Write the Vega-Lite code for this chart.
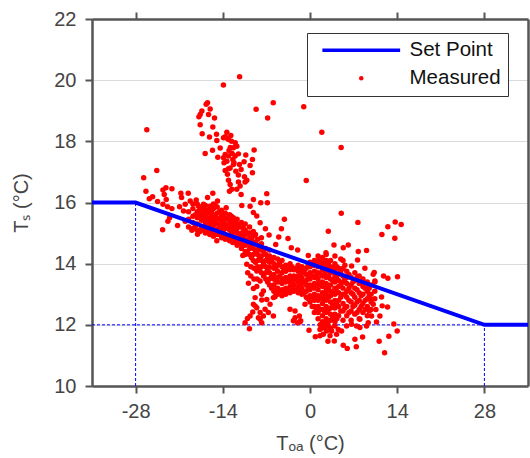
{"$schema":"https://vega.github.io/schema/vega-lite/v6.json","width":436,"height":367,"autosize":"none","padding":{"left":92,"top":19,"right":2,"bottom":72},"background":"white","config":{"font":"Liberation Sans","view":{"stroke":null}},
"datasets":{"setpoint":[{"toa":-35,"ts":16},{"toa":-28,"ts":16},{"toa":28,"ts":12},{"toa":35,"ts":12}],
"guides":[{"g":"a","toa":-35,"ts":12},{"g":"a","toa":28,"ts":12},{"g":"b","toa":-28,"ts":10},{"g":"b","toa":-28,"ts":16},{"g":"c","toa":28,"ts":10},{"g":"c","toa":28,"ts":12}],
"measured":[{"toa":-11.3,"ts":20.11},{"toa":-13.9,"ts":19.84},{"toa":-26.2,"ts":18.38},{"toa":-8.65,"ts":19.05},{"toa":-5.9,"ts":19.26},{"toa":-1,"ts":19.13},{"toa":-6.8,"ts":18.76},{"toa":-0.6,"ts":16.72},{"toa":1.9,"ts":18.3},{"toa":5,"ts":17.8},
{"toa":-16.45,"ts":19.26},{"toa":-16.67,"ts":19.21},{"toa":-16.03,"ts":19.06},{"toa":-17.36,"ts":18.99},{"toa":-17.63,"ts":18.88},{"toa":-17.84,"ts":18.8},{"toa":-16.29,"ts":18.88},{"toa":-15.33,"ts":18.76},{"toa":-17.63,"ts":18.54},{"toa":-15.6,"ts":18.47},{"toa":-17.31,"ts":18.25},{"toa":-16.13,"ts":18.14},{"toa":-15.01,"ts":18.23},{"toa":-14.96,"ts":18.03},{"toa":-13.35,"ts":18.3},{"toa":-13.62,"ts":18.15},{"toa":-13.09,"ts":18.06},{"toa":-12.71,"ts":18.19},{"toa":-13.89,"ts":18.12},{"toa":-11.75,"ts":17.84},{"toa":-12.29,"ts":17.79},{"toa":-14.42,"ts":17.78},{"toa":-15.65,"ts":17.71},{"toa":-16.83,"ts":17.6},{"toa":-8.97,"ts":17.72},{"toa":-10.31,"ts":17.55},{"toa":-11.49,"ts":17.59},{"toa":-14.8,"ts":17.48},{"toa":-13.62,"ts":17.57},{"toa":-13.89,"ts":17.46},{"toa":-13.09,"ts":17.52},{"toa":-12.02,"ts":17.52},{"toa":-12.39,"ts":17.41},{"toa":-13.35,"ts":17.35},{"toa":-9.24,"ts":17.41},{"toa":-10.58,"ts":17.33},{"toa":-11.32,"ts":17.24},{"toa":-9.62,"ts":17.21},{"toa":-12.29,"ts":17.24},{"toa":-12.82,"ts":17.13},{"toa":-13.62,"ts":17.05},{"toa":-13.09,"ts":17.1},{"toa":-11.91,"ts":17.02},{"toa":-11.06,"ts":17.08},{"toa":-9.24,"ts":16.97},{"toa":-10.52,"ts":16.84},{"toa":-10.15,"ts":16.73},{"toa":-13.25,"ts":16.92},{"toa":-13.09,"ts":16.73},{"toa":-12.82,"ts":16.59},{"toa":-11.49,"ts":16.67},{"toa":-11.22,"ts":16.54},{"toa":-10.42,"ts":16.67},{"toa":-11.75,"ts":16.43},{"toa":-12.55,"ts":16.43},{"toa":-12.93,"ts":16.37},{"toa":-11.06,"ts":16.26},{"toa":-26.7,"ts":16.81},{"toa":-24.6,"ts":17.05},{"toa":-12.8,"ts":17.8},{"toa":-12.5,"ts":17.6},{"toa":-12.2,"ts":17.3},{"toa":-13,"ts":17.7},{"toa":-12,"ts":17.95},{"toa":-13.3,"ts":18.1},{"toa":-12.6,"ts":18},{"toa":-13.8,"ts":17.3},{"toa":-11.5,"ts":16.9},
{"toa":-26.34,"ts":16.37},{"toa":-25.8,"ts":16.12},{"toa":-25.27,"ts":16.19},{"toa":-24.47,"ts":16.03},{"toa":-23.61,"ts":16.41},{"toa":-23.13,"ts":16.48},{"toa":-22.17,"ts":16.45},{"toa":-23.4,"ts":16.26},{"toa":-23.08,"ts":16.1},{"toa":-23.61,"ts":15.94},{"toa":-22.86,"ts":15.86},{"toa":-22.17,"ts":15.8},{"toa":-20.73,"ts":16.3},{"toa":-20.62,"ts":16.16},{"toa":-19.55,"ts":16.3},{"toa":-20.94,"ts":15.86},{"toa":-20.3,"ts":15.72},{"toa":-20.03,"ts":15.94},{"toa":-19.23,"ts":16.05},{"toa":-18.27,"ts":16.08},{"toa":-16.45,"ts":16.16},{"toa":-15.6,"ts":16.3},{"toa":-14.85,"ts":16.05},{"toa":-17.9,"ts":15.88},{"toa":-17.09,"ts":15.94},{"toa":-16.03,"ts":15.88},{"toa":-13.46,"ts":15.83},{"toa":-6.94,"ts":16.29},{"toa":-6.84,"ts":15.99},{"toa":-7.91,"ts":15.99},{"toa":-9.08,"ts":16.1},{"toa":-9.62,"ts":15.88},{"toa":-10.95,"ts":15.9},{"toa":-9.08,"ts":15.67},{"toa":-8.55,"ts":15.56},{"toa":-8.01,"ts":15.34},{"toa":-6.57,"ts":14.94},{"toa":-7.16,"ts":15.14},{"toa":-5.5,"ts":14.63},{"toa":-3,"ts":14.52},{"toa":-23.66,"ts":15.11},{"toa":-22.81,"ts":15.39},{"toa":-22.54,"ts":15.5},{"toa":-21.26,"ts":15.25},{"toa":-20.03,"ts":15.39},{"toa":-18.96,"ts":15.09},{"toa":-18.06,"ts":14.96},{"toa":-17.63,"ts":15.07},{"toa":-14.96,"ts":14.75},{"toa":-12.39,"ts":14.69},{"toa":-11.49,"ts":14.66},{"toa":-10.79,"ts":14.27},{"toa":-10.15,"ts":13.98},
{"toa":5.02,"ts":15.65},{"toa":7.69,"ts":15.35},{"toa":2.94,"ts":15.06},{"toa":12.5,"ts":15.21},{"toa":13.68,"ts":15.36},{"toa":14.64,"ts":15.28},{"toa":11.54,"ts":14.95},{"toa":13.62,"ts":14.83},{"toa":-4.11,"ts":15.45},{"toa":-4.59,"ts":15.14},{"toa":-5.02,"ts":14.87},{"toa":-3.53,"ts":14.82},{"toa":-1.98,"ts":14.45},{"toa":-0.27,"ts":14.27},{"toa":2.56,"ts":14.36},{"toa":3.85,"ts":14.61},{"toa":5.34,"ts":14.52},{"toa":6.14,"ts":14.61},{"toa":7.75,"ts":14.4},{"toa":9.08,"ts":14.43},{"toa":7.64,"ts":14.12},{"toa":6.68,"ts":13.92},{"toa":8.81,"ts":13.85},{"toa":10.31,"ts":13.71},{"toa":11.81,"ts":13.6},{"toa":12.5,"ts":13.52},{"toa":14.05,"ts":13.57},{"toa":11.49,"ts":12.91},{"toa":12.45,"ts":12.58},{"toa":11.59,"ts":12.62},{"toa":10.15,"ts":12.67},{"toa":13.46,"ts":12.03},{"toa":14,"ts":11.8},{"toa":12.66,"ts":11.63},{"toa":11.11,"ts":11.46},{"toa":11.97,"ts":11.09},{"toa":8.44,"ts":11.6},{"toa":7.21,"ts":11.53},{"toa":7.43,"ts":11.28},{"toa":5.98,"ts":11.23},{"toa":5.34,"ts":11.33},{"toa":3.9,"ts":11.47},{"toa":2.88,"ts":11.46},{"toa":0.85,"ts":11.61},{"toa":-0.16,"ts":11.82},{"toa":1.6,"ts":11.85},{"toa":2.67,"ts":11.8},{"toa":8.01,"ts":11.91},{"toa":9.08,"ts":11.96},{"toa":10.68,"ts":12.09},{"toa":11.22,"ts":12.29},{"toa":-9.88,"ts":13.36},{"toa":-9.08,"ts":13.19},{"toa":-8.55,"ts":13.25},{"toa":-8.01,"ts":13.43},{"toa":-7.48,"ts":13.11},{"toa":-7.75,"ts":12.81},{"toa":-8.81,"ts":12.62},{"toa":-9.19,"ts":12.42},{"toa":-10.04,"ts":12.21},{"toa":-10.42,"ts":12.07},{"toa":-9.72,"ts":11.87},{"toa":-8.28,"ts":12.23},{"toa":-7.75,"ts":12.07},{"toa":-6.68,"ts":12.4},{"toa":-5.88,"ts":12.29},{"toa":-5.61,"ts":12.92},{"toa":-3.21,"ts":12.51},{"toa":-2.4,"ts":12.45},{"toa":-1.71,"ts":12.29},{"toa":-2.67,"ts":12.13},{"toa":-1.6,"ts":12.09},{"toa":-0.8,"ts":12.67},{"toa":-8.55,"ts":13.76},{"toa":-10.42,"ts":14.3},
{"toa":-19.5,"ts":15.2},{"toa":-19.5,"ts":15.45},{"toa":-19.5,"ts":15.7},{"toa":-18.8,"ts":15.15},{"toa":-18.8,"ts":15.35},{"toa":-18.8,"ts":15.55},{"toa":-18.8,"ts":15.8},{"toa":-18.8,"ts":15.95},{"toa":-18.1,"ts":15.1},{"toa":-18.1,"ts":15.3},{"toa":-18.1,"ts":15.5},{"toa":-18.1,"ts":15.7},{"toa":-18.1,"ts":15.95},{"toa":-17.4,"ts":15.2},{"toa":-17.4,"ts":15.42},{"toa":-17.4,"ts":15.6},{"toa":-17.4,"ts":15.85},{"toa":-16.8,"ts":15},{"toa":-16.8,"ts":15.2},{"toa":-16.8,"ts":15.35},{"toa":-16.8,"ts":15.55},{"toa":-16.8,"ts":15.75},{"toa":-16.8,"ts":15.9},{"toa":-16.1,"ts":14.95},{"toa":-16.1,"ts":15.15},{"toa":-16.1,"ts":15.3},{"toa":-16.1,"ts":15.5},{"toa":-16.1,"ts":15.65},{"toa":-16.1,"ts":15.8},{"toa":-15.5,"ts":14.9},{"toa":-15.5,"ts":15.1},{"toa":-15.5,"ts":15.25},{"toa":-15.5,"ts":15.45},{"toa":-15.5,"ts":15.6},{"toa":-15.5,"ts":15.8},{"toa":-15.5,"ts":15.95},{"toa":-14.9,"ts":14.95},{"toa":-14.9,"ts":15.12},{"toa":-14.9,"ts":15.3},{"toa":-14.9,"ts":15.48},{"toa":-14.9,"ts":15.65},{"toa":-14.9,"ts":15.85},{"toa":-14.2,"ts":14.85},{"toa":-14.2,"ts":15.05},{"toa":-14.2,"ts":15.2},{"toa":-14.2,"ts":15.4},{"toa":-14.2,"ts":15.55},{"toa":-14.2,"ts":15.75},{"toa":-13.6,"ts":14.8},{"toa":-13.6,"ts":14.95},{"toa":-13.6,"ts":15.15},{"toa":-13.6,"ts":15.3},{"toa":-13.6,"ts":15.5},{"toa":-13.6,"ts":15.65},{"toa":-12.9,"ts":14.75},{"toa":-12.9,"ts":14.9},{"toa":-12.9,"ts":15.1},{"toa":-12.9,"ts":15.25},{"toa":-12.9,"ts":15.4},{"toa":-12.9,"ts":15.6},{"toa":-12.3,"ts":14.7},{"toa":-12.3,"ts":14.88},{"toa":-12.3,"ts":15.05},{"toa":-12.3,"ts":15.2},{"toa":-12.3,"ts":15.35},{"toa":-12.3,"ts":15.5},{"toa":-11.7,"ts":14.6},{"toa":-11.7,"ts":14.8},{"toa":-11.7,"ts":15},{"toa":-11.7,"ts":15.15},{"toa":-11.7,"ts":15.3},{"toa":-11.7,"ts":15.45},{"toa":-11,"ts":14.5},{"toa":-11,"ts":14.7},{"toa":-11,"ts":14.85},{"toa":-11,"ts":15},{"toa":-11,"ts":15.2},{"toa":-11,"ts":15.35},{"toa":-10.4,"ts":14.4},{"toa":-10.4,"ts":14.6},{"toa":-10.4,"ts":14.78},{"toa":-10.4,"ts":14.95},{"toa":-10.4,"ts":15.1},{"toa":-10.4,"ts":15.3},{"toa":-9.7,"ts":14.3},{"toa":-9.7,"ts":14.5},{"toa":-9.7,"ts":14.65},{"toa":-9.7,"ts":14.85},{"toa":-9.7,"ts":15},{"toa":-9.7,"ts":15.2},{"toa":-9.1,"ts":14.1},{"toa":-9.1,"ts":14.3},{"toa":-9.1,"ts":14.5},{"toa":-9.1,"ts":14.7},{"toa":-9.1,"ts":14.9},{"toa":-9.1,"ts":15.05},{"toa":-8.4,"ts":13.9},{"toa":-8.4,"ts":14.1},{"toa":-8.4,"ts":14.3},{"toa":-8.4,"ts":14.45},{"toa":-8.4,"ts":14.6},{"toa":-8.4,"ts":14.8},{"toa":-7.8,"ts":13.7},{"toa":-7.8,"ts":13.9},{"toa":-7.8,"ts":14.1},{"toa":-7.8,"ts":14.25},{"toa":-7.8,"ts":14.45},{"toa":-7.8,"ts":14.65},{"toa":-7.8,"ts":14.85},{"toa":-7.1,"ts":13.5},{"toa":-7.1,"ts":13.7},{"toa":-7.1,"ts":13.9},{"toa":-7.1,"ts":14.1},{"toa":-7.1,"ts":14.3},{"toa":-7.1,"ts":14.5},{"toa":-6.5,"ts":13.3},{"toa":-6.5,"ts":13.5},{"toa":-6.5,"ts":13.7},{"toa":-6.5,"ts":13.88},{"toa":-6.5,"ts":14.05},{"toa":-6.5,"ts":14.25},{"toa":-6.5,"ts":14.45},{"toa":-5.8,"ts":13.1},{"toa":-5.8,"ts":13.3},{"toa":-5.8,"ts":13.5},{"toa":-5.8,"ts":13.65},{"toa":-5.8,"ts":13.85},{"toa":-5.8,"ts":14},{"toa":-5.8,"ts":14.2},{"toa":-5.2,"ts":13},{"toa":-5.2,"ts":13.2},{"toa":-5.2,"ts":13.4},{"toa":-5.2,"ts":13.55},{"toa":-5.2,"ts":13.75},{"toa":-5.2,"ts":13.95},{"toa":-5.2,"ts":14.15},{"toa":-4.5,"ts":12.95},{"toa":-4.5,"ts":13.15},{"toa":-4.5,"ts":13.35},{"toa":-4.5,"ts":13.5},{"toa":-4.5,"ts":13.7},{"toa":-4.5,"ts":13.9},{"toa":-4.5,"ts":14.1},{"toa":-3.9,"ts":13},{"toa":-3.9,"ts":13.2},{"toa":-3.9,"ts":13.4},{"toa":-3.9,"ts":13.55},{"toa":-3.9,"ts":13.75},{"toa":-3.9,"ts":13.95},{"toa":-3.2,"ts":13.05},{"toa":-3.2,"ts":13.25},{"toa":-3.2,"ts":13.4},{"toa":-3.2,"ts":13.6},{"toa":-3.2,"ts":13.8},{"toa":-3.2,"ts":14},{"toa":-2.6,"ts":13.1},{"toa":-2.6,"ts":13.3},{"toa":-2.6,"ts":13.45},{"toa":-2.6,"ts":13.6},{"toa":-2.6,"ts":13.8},{"toa":-1.9,"ts":13.05},{"toa":-1.9,"ts":13.25},{"toa":-1.9,"ts":13.4},{"toa":-1.9,"ts":13.6},{"toa":-1.9,"ts":13.75},{"toa":-1.9,"ts":13.95},{"toa":-1.3,"ts":13},{"toa":-1.3,"ts":13.2},{"toa":-1.3,"ts":13.35},{"toa":-1.3,"ts":13.55},{"toa":-1.3,"ts":13.7},{"toa":-1.3,"ts":13.9},{"toa":-0.6,"ts":12.9},{"toa":-0.6,"ts":13.1},{"toa":-0.6,"ts":13.3},{"toa":-0.6,"ts":13.45},{"toa":-0.6,"ts":13.65},{"toa":-0.6,"ts":13.85},{"toa":0,"ts":12.75},{"toa":0,"ts":12.95},{"toa":0,"ts":13.15},{"toa":0,"ts":13.3},{"toa":0,"ts":13.5},{"toa":0,"ts":13.7},{"toa":0,"ts":13.9},{"toa":0,"ts":14.05},{"toa":0.7,"ts":12.4},{"toa":0.7,"ts":12.6},{"toa":0.7,"ts":12.8},{"toa":0.7,"ts":13},{"toa":0.7,"ts":13.2},{"toa":0.7,"ts":13.35},{"toa":0.7,"ts":13.55},{"toa":0.7,"ts":13.75},{"toa":0.7,"ts":13.95},{"toa":0.7,"ts":14.1},{"toa":1.3,"ts":12.2},{"toa":1.3,"ts":12.4},{"toa":1.3,"ts":12.6},{"toa":1.3,"ts":12.8},{"toa":1.3,"ts":12.95},{"toa":1.3,"ts":13.15},{"toa":1.3,"ts":13.35},{"toa":1.3,"ts":13.5},{"toa":1.3,"ts":13.7},{"toa":1.3,"ts":13.9},{"toa":1.3,"ts":14.1},{"toa":1.3,"ts":14.25},{"toa":2,"ts":11.9},{"toa":2,"ts":12.1},{"toa":2,"ts":12.3},{"toa":2,"ts":12.5},{"toa":2,"ts":12.7},{"toa":2,"ts":12.85},{"toa":2,"ts":13.05},{"toa":2,"ts":13.25},{"toa":2,"ts":13.4},{"toa":2,"ts":13.6},{"toa":2,"ts":13.8},{"toa":2,"ts":14},{"toa":2,"ts":14.2},{"toa":2.6,"ts":12},{"toa":2.6,"ts":12.2},{"toa":2.6,"ts":12.4},{"toa":2.6,"ts":12.6},{"toa":2.6,"ts":12.8},{"toa":2.6,"ts":13},{"toa":2.6,"ts":13.15},{"toa":2.6,"ts":13.35},{"toa":2.6,"ts":13.55},{"toa":2.6,"ts":13.75},{"toa":2.6,"ts":13.9},{"toa":2.6,"ts":14.1},{"toa":2.6,"ts":14.3},{"toa":3.3,"ts":11.9},{"toa":3.3,"ts":12.15},{"toa":3.3,"ts":12.35},{"toa":3.3,"ts":12.55},{"toa":3.3,"ts":12.75},{"toa":3.3,"ts":12.95},{"toa":3.3,"ts":13.1},{"toa":3.3,"ts":13.3},{"toa":3.3,"ts":13.5},{"toa":3.3,"ts":13.7},{"toa":3.3,"ts":13.9},{"toa":3.3,"ts":14.1},{"toa":4,"ts":12.1},{"toa":4,"ts":12.35},{"toa":4,"ts":12.55},{"toa":4,"ts":12.8},{"toa":4,"ts":13},{"toa":4,"ts":13.2},{"toa":4,"ts":13.4},{"toa":4,"ts":13.6},{"toa":4,"ts":13.8},{"toa":4,"ts":14},{"toa":4,"ts":14.25},{"toa":4.6,"ts":12.3},{"toa":4.6,"ts":12.6},{"toa":4.6,"ts":12.8},{"toa":4.6,"ts":13.05},{"toa":4.6,"ts":13.25},{"toa":4.6,"ts":13.45},{"toa":4.6,"ts":13.65},{"toa":4.6,"ts":13.85},{"toa":5.3,"ts":12.15},{"toa":5.3,"ts":12.45},{"toa":5.3,"ts":12.7},{"toa":5.3,"ts":13},{"toa":5.3,"ts":13.2},{"toa":5.3,"ts":13.4},{"toa":5.3,"ts":13.6},{"toa":5.3,"ts":13.85},{"toa":5.3,"ts":14.1},{"toa":5.9,"ts":12.3},{"toa":5.9,"ts":12.6},{"toa":5.9,"ts":12.9},{"toa":5.9,"ts":13.1},{"toa":5.9,"ts":13.35},{"toa":5.9,"ts":13.55},{"toa":5.9,"ts":13.75},{"toa":6.6,"ts":12.15},{"toa":6.6,"ts":12.45},{"toa":6.6,"ts":12.75},{"toa":6.6,"ts":13.05},{"toa":6.6,"ts":13.3},{"toa":6.6,"ts":13.55},{"toa":7.2,"ts":12.35},{"toa":7.2,"ts":12.65},{"toa":7.2,"ts":12.9},{"toa":7.2,"ts":13.2},{"toa":7.2,"ts":13.45},{"toa":7.2,"ts":13.7},{"toa":7.9,"ts":12.2},{"toa":7.9,"ts":12.5},{"toa":7.9,"ts":12.8},{"toa":7.9,"ts":13.05},{"toa":7.9,"ts":13.35},{"toa":7.9,"ts":13.6},{"toa":8.5,"ts":12.4},{"toa":8.5,"ts":12.7},{"toa":8.5,"ts":13},{"toa":8.5,"ts":13.25},{"toa":8.5,"ts":13.5},{"toa":9.2,"ts":12.3},{"toa":9.2,"ts":12.6},{"toa":9.2,"ts":12.85},{"toa":9.2,"ts":13.1},{"toa":9.2,"ts":13.4},{"toa":9.8,"ts":12.5},{"toa":9.8,"ts":12.75},{"toa":9.8,"ts":13},{"toa":9.8,"ts":13.3},{"toa":10.4,"ts":12.85},{"toa":10.4,"ts":13.1},{"toa":10.4,"ts":13.4},
{"toa":-18.4,"ts":15.25},{"toa":-18.4,"ts":15.6},{"toa":-17.7,"ts":15.05},{"toa":-17.7,"ts":15.55},{"toa":-17.7,"ts":15.75},{"toa":-17.1,"ts":15.1},{"toa":-17.1,"ts":15.45},{"toa":-17.1,"ts":15.7},{"toa":-16.45,"ts":15.05},{"toa":-16.45,"ts":15.42},{"toa":-16.45,"ts":15.7},{"toa":-15.8,"ts":15.02},{"toa":-15.8,"ts":15.38},{"toa":-15.8,"ts":15.72},{"toa":-15.2,"ts":15.03},{"toa":-15.2,"ts":15.35},{"toa":-15.2,"ts":15.55},{"toa":-15.2,"ts":15.9},{"toa":-14.55,"ts":14.95},{"toa":-14.55,"ts":15.25},{"toa":-14.55,"ts":15.45},{"toa":-14.55,"ts":15.7},{"toa":-13.9,"ts":14.9},{"toa":-13.9,"ts":15.1},{"toa":-13.9,"ts":15.35},{"toa":-13.9,"ts":15.6},{"toa":-13.25,"ts":14.85},{"toa":-13.25,"ts":15.18},{"toa":-13.25,"ts":15.45},{"toa":-12.6,"ts":14.8},{"toa":-12.6,"ts":15},{"toa":-12.6,"ts":15.3},{"toa":-12.6,"ts":15.55},{"toa":-12,"ts":14.75},{"toa":-12,"ts":15.1},{"toa":-12,"ts":15.4},{"toa":-11.35,"ts":14.65},{"toa":-11.35,"ts":14.95},{"toa":-11.35,"ts":15.25},{"toa":-10.7,"ts":14.6},{"toa":-10.7,"ts":14.9},{"toa":-10.7,"ts":15.15},{"toa":-10.05,"ts":14.4},{"toa":-10.05,"ts":14.7},{"toa":-10.05,"ts":15},{"toa":-9.4,"ts":14.2},{"toa":-9.4,"ts":14.55},{"toa":-9.4,"ts":14.8},{"toa":-8.75,"ts":14.05},{"toa":-8.75,"ts":14.4},{"toa":-8.75,"ts":14.7},{"toa":-8.75,"ts":14.95},{"toa":-8.1,"ts":13.8},{"toa":-8.1,"ts":14.2},{"toa":-8.1,"ts":14.55},{"toa":-7.45,"ts":13.6},{"toa":-7.45,"ts":14},{"toa":-7.45,"ts":14.4},{"toa":-6.8,"ts":13.4},{"toa":-6.8,"ts":13.8},{"toa":-6.8,"ts":14.2},{"toa":-6.15,"ts":13.2},{"toa":-6.15,"ts":13.6},{"toa":-6.15,"ts":14.1},{"toa":-5.5,"ts":13.05},{"toa":-5.5,"ts":13.45},{"toa":-5.5,"ts":13.85},{"toa":-4.85,"ts":13.1},{"toa":-4.85,"ts":13.6},{"toa":-4.85,"ts":14.05},{"toa":-4.2,"ts":13.1},{"toa":-4.2,"ts":13.45},{"toa":-4.2,"ts":13.8},{"toa":-3.55,"ts":13.15},{"toa":-3.55,"ts":13.5},{"toa":-3.55,"ts":13.85},{"toa":-2.9,"ts":13.2},{"toa":-2.9,"ts":13.55},{"toa":-2.9,"ts":13.9},{"toa":-2.25,"ts":13.15},{"toa":-2.25,"ts":13.5},{"toa":-2.25,"ts":13.85},{"toa":-1.6,"ts":13.1},{"toa":-1.6,"ts":13.45},{"toa":-1.6,"ts":13.8},{"toa":-0.95,"ts":13.05},{"toa":-0.95,"ts":13.4},{"toa":-0.95,"ts":13.75},{"toa":-0.3,"ts":12.85},{"toa":-0.3,"ts":13.2},{"toa":-0.3,"ts":13.55},{"toa":-0.3,"ts":13.95},{"toa":0.35,"ts":12.6},{"toa":0.35,"ts":12.9},{"toa":0.35,"ts":13.25},{"toa":0.35,"ts":13.6},{"toa":0.35,"ts":13.95},{"toa":1,"ts":12.5},{"toa":1,"ts":12.9},{"toa":1,"ts":13.25},{"toa":1,"ts":13.6},{"toa":1,"ts":14},{"toa":1.65,"ts":12},{"toa":1.65,"ts":12.5},{"toa":1.65,"ts":12.9},{"toa":1.65,"ts":13.3},{"toa":1.65,"ts":13.65},{"toa":1.65,"ts":14.05},{"toa":2.3,"ts":12.05},{"toa":2.3,"ts":12.45},{"toa":2.3,"ts":12.9},{"toa":2.3,"ts":13.3},{"toa":2.3,"ts":13.65},{"toa":2.3,"ts":14.05},{"toa":2.95,"ts":12.1},{"toa":2.95,"ts":12.5},{"toa":2.95,"ts":12.9},{"toa":2.95,"ts":13.2},{"toa":2.95,"ts":13.6},{"toa":2.95,"ts":14},{"toa":3.65,"ts":12.25},{"toa":3.65,"ts":12.65},{"toa":3.65,"ts":13.05},{"toa":3.65,"ts":13.45},{"toa":3.65,"ts":13.85},{"toa":4.3,"ts":12.2},{"toa":4.3,"ts":12.7},{"toa":4.3,"ts":13.1},{"toa":4.3,"ts":13.5},{"toa":4.3,"ts":13.9},{"toa":4.95,"ts":12.45},{"toa":4.95,"ts":12.9},{"toa":4.95,"ts":13.3},{"toa":4.95,"ts":13.75},{"toa":4.95,"ts":14.15},{"toa":5.6,"ts":12.55},{"toa":5.6,"ts":13},{"toa":5.6,"ts":13.5},{"toa":5.6,"ts":13.95},{"toa":6.25,"ts":12.4},{"toa":6.25,"ts":12.8},{"toa":6.25,"ts":13.2},{"toa":6.25,"ts":13.65},{"toa":6.9,"ts":12.6},{"toa":6.9,"ts":13},{"toa":6.9,"ts":13.4},{"toa":7.55,"ts":12.4},{"toa":7.55,"ts":12.75},{"toa":7.55,"ts":13.15},{"toa":7.55,"ts":13.55},{"toa":8.2,"ts":12.6},{"toa":8.2,"ts":12.95},{"toa":8.2,"ts":13.4},{"toa":8.85,"ts":12.5},{"toa":8.85,"ts":12.8},{"toa":8.85,"ts":13.2},{"toa":9.5,"ts":12.45},{"toa":9.5,"ts":12.95},{"toa":9.5,"ts":13.2},{"toa":-9.5,"ts":13.6},{"toa":-9.5,"ts":13.9},{"toa":-10,"ts":13.7},{"toa":-9,"ts":13.5},{"toa":-9,"ts":13.85},{"toa":-8.5,"ts":13.5},
{"toa":-9.08,"ts":12.67},{"toa":-8.55,"ts":12.56},{"toa":-8.01,"ts":12.4},{"toa":-7.21,"ts":12.51},{"toa":-6.41,"ts":12.67},{"toa":-5.88,"ts":12.89},{"toa":-6.94,"ts":12.83},{"toa":-7.75,"ts":13},{"toa":-8.81,"ts":12.89},{"toa":-9.62,"ts":12.29},{"toa":-8.01,"ts":12.18},{"toa":-7.48,"ts":12.29},{"toa":-5.34,"ts":13.16},{"toa":-2.4,"ts":12.23},{"toa":-2.03,"ts":12.07},{"toa":-1.5,"ts":12.13},{"toa":1.87,"ts":12.02},{"toa":2.4,"ts":11.91},{"toa":2.94,"ts":11.96},{"toa":3.47,"ts":11.8},{"toa":4,"ts":11.96},{"toa":4.54,"ts":11.85},{"toa":2.14,"ts":11.69},{"toa":3.21,"ts":11.64},{"toa":4.27,"ts":11.69},{"toa":5.07,"ts":11.8},{"toa":5.88,"ts":11.96},{"toa":6.68,"ts":12.02},{"toa":7.48,"ts":11.96},{"toa":1.6,"ts":11.64},{"toa":8.01,"ts":12.18},{"toa":9.35,"ts":12.07},{"toa":9.88,"ts":12.29},{"toa":10.58,"ts":12.5},{"toa":9.88,"ts":12.83},{"toa":10.42,"ts":13.43},{"toa":10.15,"ts":13.65},{"toa":9.35,"ts":13.32}]},
"layer":[
{"data":{"name":"guides"},"mark":{"type":"line","stroke":"#0000ff","strokeWidth":1,"strokeDash":[3,2],"clip":true},
"encoding":{"x":{"field":"toa","type":"quantitative","scale":{"domain":[-35,35],"nice":false,"zero":false},"axis":{"values":[-28,-14,0,14,28],"orient":"bottom","title":"Tₒₐ (°C)","titleFontSize":20,"titleFontWeight":"normal","titleColor":"#444","titlePadding":12,"labelExpr":"''+datum.value","labelFontSize":20,"labelColor":"#444","labelPadding":8,"tickSize":7,"tickWidth":2,"tickColor":"#555","domainColor":"#555","domainWidth":2.5,"grid":false}},"y":{"field":"ts","type":"quantitative","scale":{"domain":[10,22],"nice":false,"zero":false},"axis":{"values":[10,12,14,16,18,20,22],"orient":"left","title":"Tₛ (°C)","titleFontSize":20,"titleFontWeight":"normal","titleColor":"#444","titlePadding":22,"labelFontSize":20,"labelColor":"#444","labelPadding":9,"tickSize":7,"tickWidth":2,"tickColor":"#555","domainColor":"#555","domainWidth":2.5,"grid":true,"gridColor":"#b5b5b5","gridDash":[1,1],"gridWidth":1}},"detail":{"field":"g"}}},
{"data":{"name":"measured"},"mark":{"type":"point","filled":true,"size":30,"opacity":1},
"encoding":{"x":{"field":"toa","type":"quantitative","axis":{"orient":"top","values":[-28,-14,0,14,28],"labels":false,"title":null,"tickSize":7,"tickWidth":2,"tickColor":"#555","domainColor":"#555","domainWidth":2.5,"grid":false}},"y":{"field":"ts","type":"quantitative","axis":{"orient":"right","values":[10,12,14,16,18,20,22],"labels":false,"title":null,"ticks":false,"domainColor":"#555","domainWidth":2.5,"grid":false}},"color":{"datum":"Measured","type":"nominal","scale":{"domain":["Set Point","Measured"],"range":["#0000ff","#ff0000"]},"legend":{"title":null,"orient":"none","legendX":215,"legendY":14,"direction":"vertical","labelFontSize":20.5,"labelColor":"#111","rowPadding":7,"padding":7,"symbolOffset":37,"strokeColor":"#333","fillColor":"white","labelOffset":38,"encoding":{"symbols":{"shape":{"value":{"signal":"datum.value==='Set Point'?'M-12,0H12':'circle'"}},"size":{"value":{"signal":"datum.value==='Set Point'?42:20"}},"strokeWidth":{"value":{"signal":"datum.value==='Set Point'?3.5:0"}},"stroke":{"value":{"signal":"datum.value==='Set Point'?'#0000ff':'#ff0000'"}},"fill":{"value":{"signal":"datum.value==='Set Point'?'transparent':'#ff0000'"}},"opacity":{"value":1}}}}}}},
{"data":{"name":"setpoint"},"mark":{"type":"line","strokeWidth":4,"clip":true},
"encoding":{"x":{"field":"toa","type":"quantitative","axis":null},"y":{"field":"ts","type":"quantitative","axis":null},"color":{"datum":"Set Point","type":"nominal"}}}
],
"resolve":{"axis":{"x":"independent","y":"independent"}}}
